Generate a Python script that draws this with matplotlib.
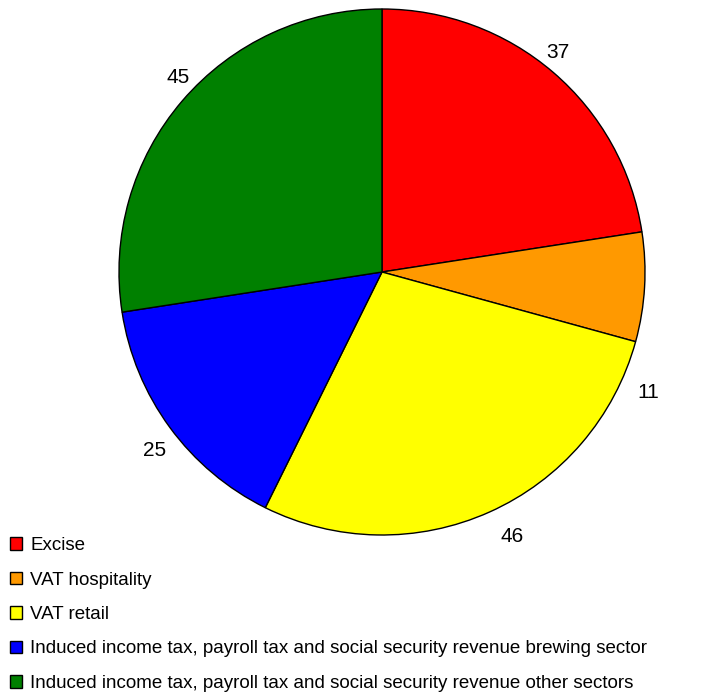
import numpy as np
import matplotlib.pyplot as plt
from matplotlib.patches import Patch

# Data
categories = ["Excise",
              "VAT hospitality",
              "VAT retail",
              "Induced income tax, payroll tax and social security revenue brewing sector",
              "Induced income tax, payroll tax and social security revenue other sectors"]
values = [37, 11, 46, 25, 45]
colors = ["#FF0000", "#FF9900", "#FFFF00", "#0000FF", "#008000"]

plt.rcParams['font.family'] = ['Liberation Sans', 'DejaVu Sans']

fig = plt.figure(figsize=(7.18, 6.94), dpi=100)
# square axes so the pie sits where it does in the reference
ax = fig.add_axes([119 / 718, 159 / 694, 526 / 718, 526 / 694])

wedges, _ = ax.pie(values, colors=colors, startangle=90, counterclock=False,
                   wedgeprops=dict(edgecolor='black', linewidth=1.0))
ax.set_xlim(-1, 1)
ax.set_ylim(-1, 1)
ax.axis('off')

# value labels outside the slices (the small one is nudged down like in the original)
angle_shift = [2, -21, 2, 2, -3]
label_dist = [1.07, 1.11, 1.12, 1.10, 1.07]
for w, v, da, d in zip(wedges, values, angle_shift, label_dist):
    mid = np.deg2rad((w.theta1 + w.theta2) / 2 + da)
    ax.text(d * np.cos(mid), d * np.sin(mid), str(v), ha='center', va='center',
            fontsize=15, clip_on=False)

handles = [Patch(facecolor=c, edgecolor='black', linewidth=1.0) for c in colors]
fig.legend(handles, categories, loc='upper left', bbox_to_anchor=(0.0136, 0.226),
           frameon=False, fontsize=13.5, handlelength=0.65, handleheight=0.65,
           handletextpad=0.43, labelspacing=0.93, borderpad=0, borderaxespad=0)

plt.savefig('out.png', dpi=100)
